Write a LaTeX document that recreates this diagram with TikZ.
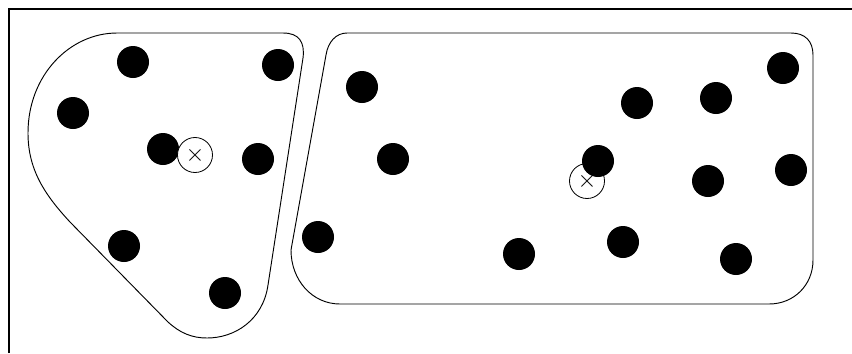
\documentclass[tikz,border=0pt]{standalone}
\usepackage{tikz}

\begin{document}
\begin{tikzpicture}[
    x=0.03cm,y=-0.03cm,
    pt/.style={circle,fill=black,inner sep=0pt,minimum size=0.96cm},
    centre/.style={circle,draw=black,fill=white,line width=0.7pt,inner sep=0pt,
      minimum size=1.05cm,font=\huge},
    hull/.style={draw=black,line width=0.8pt},
  ]
    \useasboundingbox (0,0) rectangle (852,353);
    \draw[line width=1.6pt] (9,353) -- (9,9) -- (852,9);

    % left cluster
    \draw[hull] (117,33) -- (283,33) .. controls (299,33) and (305,42) .. (303,58)
      -- (268,285) .. controls (263,320) and (235,338) .. (207,338)
      .. controls (192,338) and (180,333) .. (168,322) -- (70,222)
      .. controls (45,195) and (28,170) .. (28,133)
      .. controls (28,75) and (70,33) .. (117,33) -- cycle;
    \node[pt] (a1) at (133,62) {};
    \node[pt] (a2) at (73,113) {};
    \node[pt] (a3) at (163,149) {};
    \node[pt] (a4) at (278,65) {};
    \node[pt] (a5) at (258,159) {};
    \node[pt] (a6) at (124,246) {};
    \node[pt] (a7) at (225,293) {};
    \node[centre] (c1) at (195,155) {$\times$};

    % right cluster
    \draw[hull] (347,33) -- (791,33) .. controls (805,33) and (813,41) .. (813,55)
      -- (813,260) .. controls (813,285) and (794,304) .. (769,304)
      -- (340,304) .. controls (312,304) and (291,280) .. (291,250)
      -- (326,55) .. controls (328,42) and (336,33) .. (347,33) -- cycle;
    \node[centre] (c2) at (587,181) {$\times$};
    \node[pt] (b1) at (362,87) {};
    \node[pt] (b2) at (393,159) {};
    \node[pt] (b3) at (318,237) {};
    \node[pt] (b4) at (519,254) {};
    \node[pt] (b5) at (623,242) {};
    \node[pt] (b6) at (637,103) {};
    \node[pt] (b7) at (716,98) {};
    \node[pt] (b8) at (783,68) {};
    \node[pt] (b9) at (791,170) {};
    \node[pt] (b10) at (708,181) {};
    \node[pt] (b11) at (736,259) {};
    \node[pt] (b12) at (598,161) {};
  \end{tikzpicture}
\end{document}
